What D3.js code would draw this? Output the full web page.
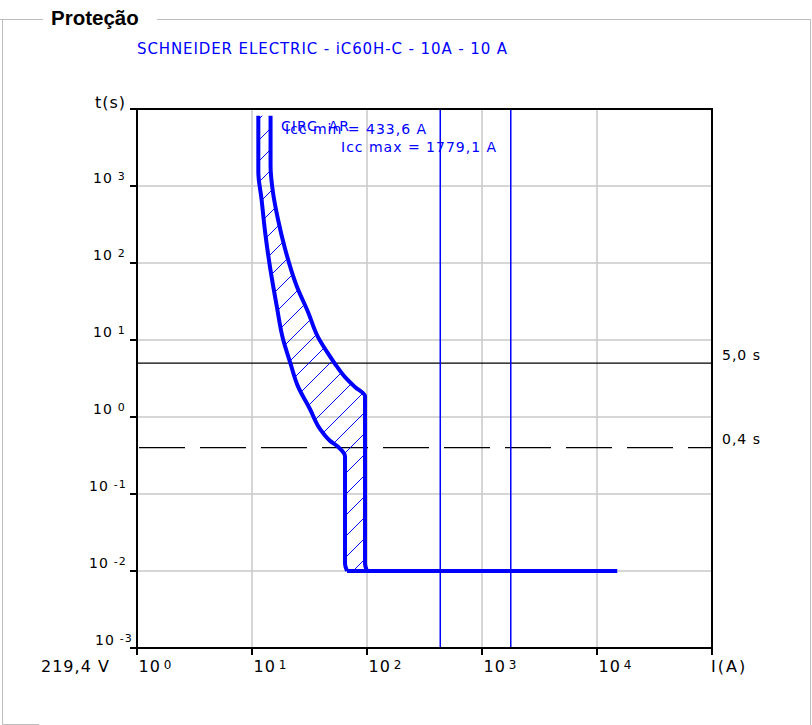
<!DOCTYPE html>
<html>
<head>
<meta charset="utf-8">
<script src="https://cdn.jsdelivr.net/npm/d3@7"></script>
<style>
body { margin: 0; background: #fff; }
text { font-family: "DejaVu Sans", Verdana, sans-serif; letter-spacing: 1px; }
</style>
</head>
<body>
<svg id="chart" width="812" height="725"></svg>
<script>
// decades shown on the axes
const xExponents = [0, 1, 2, 3, 4];
const yExponents = [-3, -2, -1, 0, 1, 2, 3];

// trip band of the breaker (current in A, time in s)
const minCurveI = [11.35, 11.35, 12.1, 13.0, 14.3, 16.4, 18.6, 21.4, 25.1, 31.9, 39.0, 47.7, 56.0, 64.4, 64.4, 67];
const minCurveT = [8190, 1520, 678, 253, 91, 27.7, 10.3, 5.2, 2.5, 1.27, 0.70, 0.49, 0.41, 0.31, 0.0123, 0.01];
const maxCurveI = [14.5, 14.5, 15.2, 16.8, 19.4, 24.5, 30.7, 37.5, 44.9, 52.7, 64.4, 78.7, 96.1, 96.1, 100];
const maxCurveT = [8190, 1820, 836, 373, 152, 50, 23.1, 10.9, 7.0, 4.9, 3.3, 2.45, 1.87, 0.0123, 0.01];
const instI = [67, 15000];
const instT = [0.01, 0.01];

const iccValues = [433.6, 1779.1];
const limitTimes = [5.0, 0.4];
const limitLabels = ["5,0 s", "0,4 s"];

const svg = d3.select("#chart");
const blue = "#0000ff";
const grey = "#c8c8c8";

const x = d3.scaleLog().domain([1, 1e5]).range([137, 712]);
const y = d3.scaleLog().domain([1e-3, 1e4]).range([648, 109]);

// hatch pattern
svg.append("defs").append("pattern")
    .attr("id", "hatch")
    .attr("patternUnits", "userSpaceOnUse")
    .attr("width", 21).attr("height", 21)
    .append("path")
    .attr("d", "M0,21 L21,0 M-5,5 L5,-5 M16,26 L26,16")
    .attr("stroke", blue)
    .attr("stroke-width", 1);

// frame of the panel
svg.append("path")
    .attr("d", "M0,19.5 H43 M157,19.5 H810.5 V725 M2.5,19.5 V724.5 H39")
    .attr("stroke", "#bdbdbd")
    .attr("fill", "none");
svg.append("text")
    .attr("x", 51).attr("y", 25)
    .style("font-family", "'Liberation Sans', Arial, sans-serif")
    .style("letter-spacing", "0px")
    .attr("font-weight", "bold")
    .attr("font-size", 20.5)
    .text("Proteção");

svg.append("text")
    .attr("x", 137).attr("y", 54)
    .attr("fill", blue)
    .attr("font-size", 15)
    .style("letter-spacing", "0.9px")
    .text("SCHNEIDER ELECTRIC - iC60H-C - 10A - 10 A");

// grid
const grid = svg.append("g").attr("stroke", grey).attr("stroke-width", 1.5);
grid.selectAll(".gx")
    .data(xExponents.filter(e => e > 0))
    .join("line")
    .attr("x1", d => x(Math.pow(10, d))).attr("x2", d => x(Math.pow(10, d)))
    .attr("y1", y.range()[1]).attr("y2", y.range()[0]);
grid.selectAll(".gy")
    .data(yExponents.filter(e => e > -3))
    .join("line")
    .attr("y1", d => y(Math.pow(10, d))).attr("y2", d => y(Math.pow(10, d)))
    .attr("x1", x.range()[0]).attr("x2", x.range()[1]);

// time limits
limitTimes.forEach((t, i) => {
    svg.append("line")
        .attr("x1", i === 0 ? x.range()[0] : 139).attr("x2", x.range()[1])
        .attr("y1", y(t)).attr("y2", y(t))
        .attr("stroke", "#000")
        .attr("stroke-width", 1.2)
        .attr("stroke-dasharray", i === 0 ? null : "46 15");
    svg.append("text")
        .attr("x", 722).attr("y", y(t) - 3.5)
        .attr("font-size", 14)
        .text(limitLabels[i]);
});

// short-circuit currents
svg.selectAll(".icc")
    .data(iccValues)
    .join("line")
    .attr("x1", d => x(d)).attr("x2", d => x(d))
    .attr("y1", y.range()[1]).attr("y2", y.range()[0])
    .attr("stroke", blue)
    .attr("stroke-width", 1.5);

// trip band
const minPts = minCurveI.map((v, i) => [x(v), y(minCurveT[i])]);
const maxPts = maxCurveI.map((v, i) => [x(v), y(maxCurveT[i])]);
const line = d3.line().curve(d3.curveMonotoneY);

const hatch = svg.append("path").attr("fill", "url(#hatch)").attr("stroke", "none");
const curves = [minPts, maxPts].map(pts => svg.append("path")
    .attr("d", line(pts))
    .attr("fill", "none")
    .attr("stroke", blue)
    .attr("stroke-width", 4)
    .attr("stroke-linejoin", "round"));

const sample = node => {
    const len = node.getTotalLength();
    return d3.range(0, 301).map(k => {
        const p = node.getPointAtLength(len * k / 300);
        return [p.x, p.y];
    });
};
const band = sample(curves[0].node()).concat(sample(curves[1].node()).reverse());
hatch.attr("d", d3.line()(band) + "Z");

svg.append("path")
    .attr("d", d3.line()(instI.map((v, i) => [x(v), y(instT[i])])))
    .attr("stroke", blue)
    .attr("stroke-width", 4);

// axes
const axes = svg.append("g").attr("stroke", "#000").attr("stroke-width", 2).attr("fill", "none");
axes.append("path").attr("d", `M130,${y.range()[1]} H${x.range()[1]} V${y.range()[0] + 7}`);
axes.append("path").attr("d", `M${x.range()[0]},${y.range()[1]} V${y.range()[0] + 7}`);
axes.append("path").attr("d", `M130,${y.range()[0]} H${x.range()[1]}`);
axes.selectAll(".ty")
    .data(yExponents)
    .join("line")
    .attr("x1", x.range()[0] - 7).attr("x2", x.range()[0])
    .attr("y1", d => y(Math.pow(10, d))).attr("y2", d => y(Math.pow(10, d)));
axes.selectAll(".tx")
    .data(xExponents)
    .join("line")
    .attr("y1", y.range()[0]).attr("y2", y.range()[0] + 7)
    .attr("x1", d => x(Math.pow(10, d))).attr("x2", d => x(Math.pow(10, d)));

// tick labels: 10 with a raised exponent
const powerLabel = (g, e, gap, supSize) => {
    g.append("tspan").text("10");
    g.append("tspan").attr("dx", gap).attr("dy", -3).attr("font-size", supSize).text(e);
};
yExponents.forEach(e => {
    const t = svg.append("text")
        .attr("x", e === -3 ? 95 : (e < 0 ? 89 : 93))
        .attr("y", y(Math.pow(10, e)) - 3)
        .attr("font-size", 14);
    powerLabel(t, e, 5, 11);
});
xExponents.forEach(e => {
    const t = svg.append("text")
        .attr("x", x(Math.pow(10, e)) + 1.5)
        .attr("y", 672)
        .attr("font-size", 16);
    powerLabel(t, e, 3, 12);
});

svg.append("text").attr("x", 95).attr("y", 108).attr("font-size", 16).text("t(s)");
svg.append("text").attr("x", 711).attr("y", 672).attr("font-size", 16).style("letter-spacing", "2px").text("I(A)");
svg.append("text").attr("x", 41).attr("y", 672).attr("font-size", 16).text("219,4 V");

// curve annotations
svg.append("text").attr("x", 281).attr("y", 130.5).attr("font-size", 14).attr("fill", blue).text("CIRC. AR");
svg.append("text").attr("x", 285).attr("y", 133.5).attr("font-size", 14).attr("fill", blue)
    .text("Icc min = " + d3.format(".1f")(iccValues[0]).replace(".", ",") + " A");
svg.append("text").attr("x", 341).attr("y", 151.5).attr("font-size", 14).attr("fill", blue)
    .text("Icc max = " + d3.format(".1f")(iccValues[1]).replace(".", ",") + " A");
</script>
</body>
</html>
